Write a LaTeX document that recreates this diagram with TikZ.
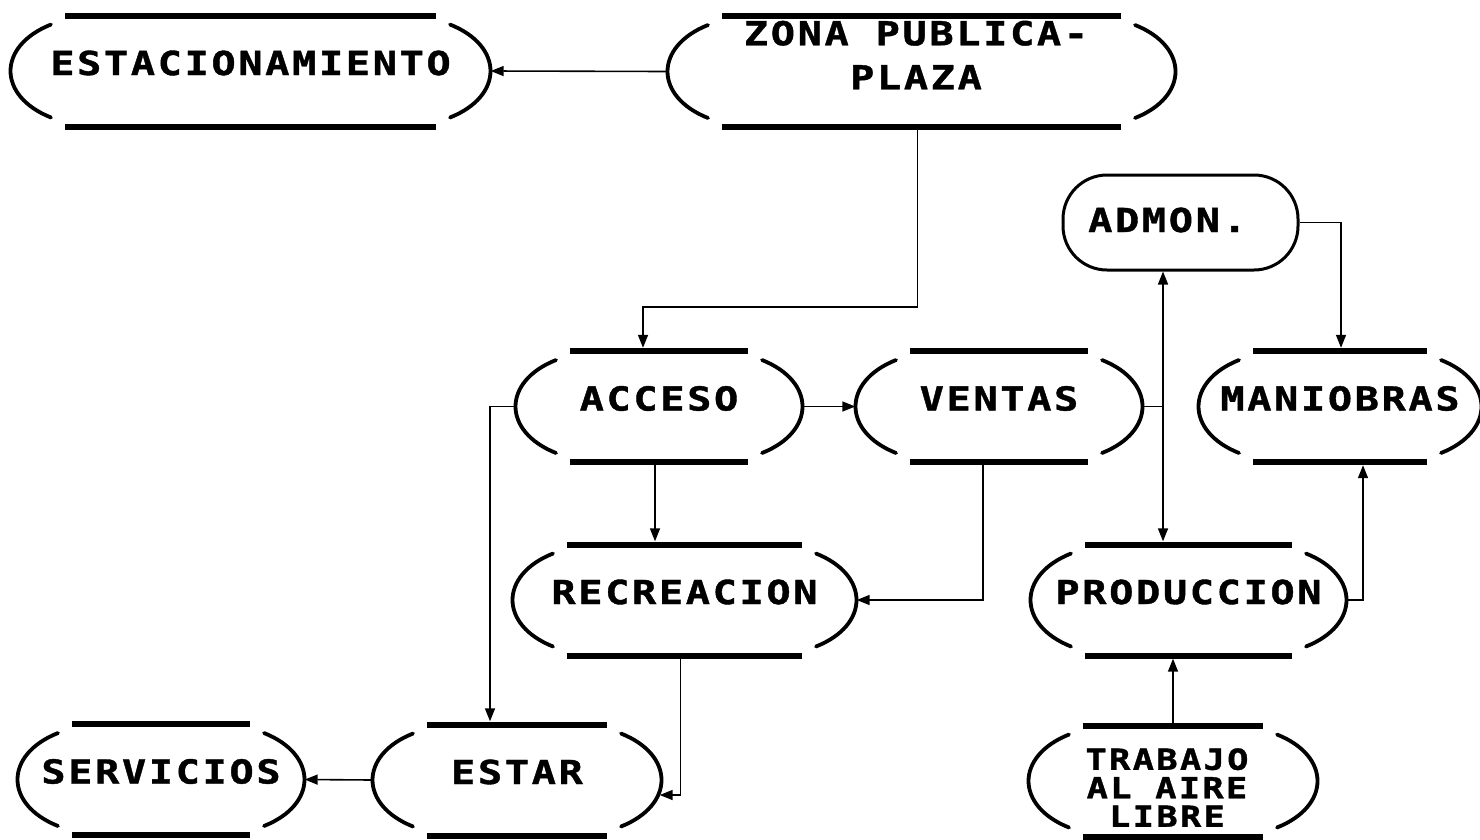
\documentclass[tikz,border=0pt]{standalone}
\usepackage{fontspec}
\newfontfamily\plotfont[FakeStretch=1.22, LetterSpace=8, FakeBold=1.2]{DejaVu Sans Mono}
\usetikzlibrary{calc,arrows.meta}
\tikzset{
  plottext/.style={font=\plotfont\bfseries\fontsize{33}{44}\selectfont},
  zone/.style={rectangle, inner sep=0pt, minimum height=111pt, plottext, text height=24pt, text depth=16pt},
  bar/.style={line width=6pt},
  paren/.style={line width=3.8pt, line cap=round},
  conn/.style={line width=1.6pt},
  arr/.style={conn, -{Triangle[length=13pt,width=10pt]}},
  arrtwo/.style={conn, {Triangle[length=13pt,width=10pt]}-{Triangle[length=13pt,width=10pt]}},
  lbl/.style={inner sep=0pt, plottext, align=center},
}
\newcommand\zone[6][]{%
  \node[zone, minimum width={2*#5+109}, #1] (#2) at (#3,#4) {#6};
  \begin{scope}[shift={(#3,#4)}]
    \draw[bar] (-#5,-55.5) -- (#5,-55.5);
    \draw[bar] (-#5,55.5) -- (#5,55.5);
    \draw[paren] ({-#5-14},-46.5) .. controls ({-#5-68},-25) and ({-#5-68},25) .. ({-#5-14},46.5);
    \draw[paren] ({#5+14},-46.5) .. controls ({#5+68},-25) and ({#5+68},25) .. ({#5+14},46.5);
  \end{scope}}
\begin{document}
\begin{tikzpicture}[x=1pt,y=-1pt]
\path[fill=white,use as bounding box] (0,0) rectangle (1480,839);

\zone{est}{250.5}{71}{185.5}{ESTACIONAMIENTO}
\zone{zona}{921.5}{71.5}{199.5}{}
\node[lbl] (zonaT) at (916,55) {ZONA PUBLICA-\\PLAZA};
\zone{acceso}{659}{406.5}{89}{ACCESO}
\zone{ventas}{999}{406.5}{89}{VENTAS}
\zone{mani}{1340}{406.5}{87}{MANIOBRAS}
\zone{recre}{684.5}{600}{117.5}{RECREACION}
\zone{prod}{1188.5}{600}{103.5}{PRODUCCION}
\zone{serv}{161}{779.5}{89}{SERVICIOS}
\zone{estar}{517}{780}{90}{ESTAR}
\zone{trab}{1173}{781}{90}{}
\node[lbl, font=\plotfont\bfseries\fontsize{29}{28.5}\selectfont] (trabT) at (1167,787.5) {TRABAJO\\AL AIRE\\LIBRE};

\node[draw, line width=3pt, rounded corners=44pt, minimum width=235pt, minimum height=95pt,
      inner sep=0pt, plottext, text height=24pt, text depth=5pt] (admon) at (1180.5,222.5) {ADMON.\hspace*{26pt}};

% connectors
\draw[arr] (zona.west) -- (est.east);
\draw[arr] ($(zona.south)+(-4,0)$) -- ++(0,180) -| ($(acceso.north)+(-16,-3)$);
\draw[arr] (acceso.east) -- (ventas.west);
\coordinate (d1) at ($(acceso.south)+(-4,3)$);
\draw[arr] (d1) -- ($(d1 |- recre.north)+(0,-3)$);
\draw[arr] (acceso.west) -| ($(estar.north)+(-27,-3)$);
\draw[arr] ($(ventas.south)+(-16,3)$) |- (recre.east);
\draw[arr] ($(recre.south)+(-4,3)$) |- ($(estar.east)+(-2,15)$);
\draw[arr] (estar.west) -- (serv.east);
\coordinate (j) at ($(admon.south)+(-17.5,0)$);
\draw[arrtwo] (j) -- ($(j |- prod.north)+(0,-3)$);
\draw[conn] (ventas.east) -- (ventas.east -| j);
\draw[arr] (admon.east) -| ($(mani.north)+(1,-3)$);
\draw[arr] (prod.east) -| ($(mani.south)+(23,3)$);
\draw[arr] ($(trab.north)+(0,3)$) -- ($(trab.north |- prod.south)+(0,3)$);
\end{tikzpicture}
\end{document}
